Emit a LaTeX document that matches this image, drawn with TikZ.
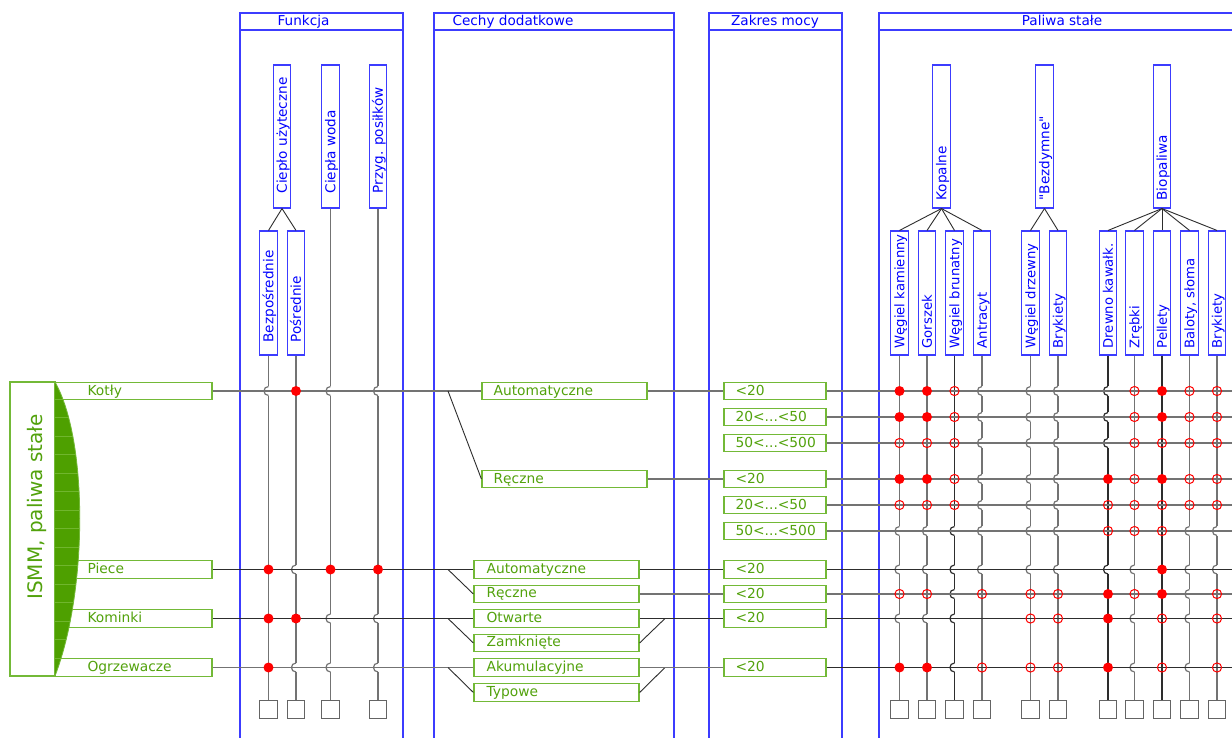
\documentclass[tikz,border=0pt]{standalone}
\usepackage{fontspec}
\setmainfont{DejaVu Sans}[Ligatures=TeXOff]
\definecolor{gtxt}{RGB}{82,162,12}
\definecolor{gbrd}{RGB}{115,185,55}
\definecolor{gfill}{RGB}{78,160,0}
\definecolor{gstripe}{RGB}{112,182,45}
\definecolor{btxt}{RGB}{0,0,255}
\definecolor{bbrd}{RGB}{60,60,255}
\definecolor{ln}{RGB}{115,115,115}
\definecolor{lnd}{RGB}{45,45,45}
\definecolor{sqc}{RGB}{100,100,100}
\definecolor{dotred}{RGB}{255,0,0}
\newcommand\gfnt{\fontsize{13.8}{16}\selectfont}
\newcommand\bfnt{\fontsize{13.6}{16}\selectfont}
\newcommand\lfnt{\fontsize{13.2}{16}\selectfont}
\newcommand\bigfnt{\fontsize{20}{24}\selectfont}
\tikzset{
 gbox/.style={draw=gbrd, line width=1.2pt, fill=white, inner sep=0pt, minimum height=17.5pt},
 bbox/.style={draw=bbrd, line width=1.1pt, fill=white, inner sep=0pt, minimum width=17.5pt},
 gt/.style={text=gtxt, font=\gfnt, inner sep=0pt, text height=10pt, text depth=0pt, anchor=west},
 bt/.style={text=btxt, font=\bfnt, inner sep=0pt, text height=9.9pt, text depth=0pt},
 rt/.style={bt, rotate=90, anchor=west},
 lt/.style={text=btxt, font=\lfnt, inner sep=0pt, text height=9.6pt, text depth=0pt, rotate=90, anchor=west},
 panel/.style={draw=bbrd, line width=1.1pt},
 sq/.style={draw=sqc, line width=1.1pt, fill=white, minimum size=17.5pt, inner sep=0pt},
 vl/.style={line width=1.3pt},
 hl/.style={line width=1.3pt, ln},
 hld/.style={line width=1.3pt, lnd},
 tl/.style={line width=0.9pt, lnd},
 dg/.style={line width=0.9pt, lnd},
 hop/.pic={\draw[white, line width=3.2pt] (0,-4.8) -- (0,4.8); \draw[line width=1.2pt] (0,-4.5) .. controls (-6,-4.5) and (-6,4.5) .. (0,4.5);},
}
\begin{document}
\begin{tikzpicture}[x=1pt,y=-1pt]
\useasboundingbox (0,0) rectangle (1232,738);
\clip (0,0) rectangle (1232,738);
\fill[white] (0,0) rectangle (1232,738);

% panels
\draw[panel] (240,13) rectangle (403,750); \draw[panel] (240,30) -- (403,30);
\draw[panel] (434,13) rectangle (674,750); \draw[panel] (434,30) -- (674,30);
\draw[panel] (709,13) rectangle (842,750); \draw[panel] (709,30) -- (842,30);
\draw[panel] (879,13) rectangle (1250,750); \draw[panel] (879,30) -- (1250,30);
\node[bt] (tF) at (303.5,21) {Funkcja};
\node[bt] (tC) at (513,21) {Cechy dodatkowe};
\node[bt] (tZ) at (775,21) {Zakres mocy};
\node[bt] (tP) at (1062,21) {Paliwa stałe};

% left block
\node[gbox, minimum width=45pt, minimum height=294pt] (ismm) at (32.5,529) {};
\node[gbox, minimum width=157pt] (k1) at (133.5,391) {};
\node[gt] (k1t) at ([xshift=33pt,yshift=0.8pt]k1.west) {Kotły};
\node[gbox, minimum width=157pt] (k2) at (133.5,569.5) {};
\node[gt] (k2t) at ([xshift=33pt,yshift=0.8pt]k2.west) {Piece};
\node[gbox, minimum width=157pt] (k3) at (133.5,618.5) {};
\node[gt] (k3t) at ([xshift=33pt,yshift=0.8pt]k3.west) {Kominki};
\node[gbox, minimum width=157pt] (k4) at (133.5,667.5) {};
\node[gt] (k4t) at ([xshift=33pt,yshift=0.8pt]k4.west) {Ogrzewacze};
\fill[gfill] (55,382) .. controls (88,440) and (88,590) .. (55,676) -- cycle;
\begin{scope}
\clip (55,382) .. controls (88,440) and (88,590) .. (55,676) -- cycle;
\foreach \k in {0,...,14} \draw[gstripe, line width=0.6pt] (50,{399.2+18.5*\k}) -- (95,{399.2+18.5*\k});
\end{scope}
\draw[gbrd, line width=0.8pt] (55,382) .. controls (88,440) and (88,590) .. (55,676);
\node[text=gtxt, font=\bigfnt, inner sep=0pt, text height=14.6pt, text depth=0pt, rotate=90] (ismmT) at (35.5,507) {ISMM, paliwa stałe};

% cechy dodatkowe
\node[gbox, minimum width=165pt] (autoK) at (564.5,391) {};
\node[gt] (autoKt) at ([xshift=12pt,yshift=0.8pt]autoK.west) {Automatyczne};
\node[gbox, minimum width=165pt] (recK) at (564.5,479) {};
\node[gt] (recKt) at ([xshift=12pt,yshift=0.8pt]recK.west) {Ręczne};
\node[gbox, minimum width=165pt] (autoP) at (556.5,569.5) {};
\node[gt] (autoPt) at ([xshift=13pt,yshift=1.5pt]autoP.west) {Automatyczne};
\node[gbox, minimum width=165pt] (recP) at (556.5,594) {};
\node[gt] (recPt) at ([xshift=13pt,yshift=1.5pt]recP.west) {Ręczne};
\node[gbox, minimum width=165pt] (otw) at (556.5,618.5) {};
\node[gt] (otwt) at ([xshift=13pt,yshift=1.5pt]otw.west) {Otwarte};
\node[gbox, minimum width=165pt] (zam) at (556.5,643) {};
\node[gt] (zamt) at ([xshift=13pt,yshift=1.5pt]zam.west) {Zamknięte};
\node[gbox, minimum width=165pt] (aku) at (556.5,667.5) {};
\node[gt] (akut) at ([xshift=13pt,yshift=1.5pt]aku.west) {Akumulacyjne};
\node[gbox, minimum width=165pt] (typ) at (556.5,692.5) {};
\node[gt] (typt) at ([xshift=13pt,yshift=1.5pt]typ.west) {Typowe};

% zakres mocy
\foreach \r/\y/\t in {1/391/{<20},2/417/{20<...<50},3/443/{50<...<500},4/479/{<20},5/505/{20<...<50},6/531/{50<...<500},7/569.5/{<20},8/594/{<20},9/618.5/{<20},10/667.5/{<20}}{
  \node[gbox, minimum width=102pt] (z\r) at (775,\y) {};
  \node[gt] (z\r t) at ([xshift=12pt,yshift=0.8pt]z\r.west) {\t};
}
\coordinate (E) at (1245,0);

% funkcja boxes
\node[bbox, minimum height=143pt] (cu) at (282,136.5) {};
\node[rt] (cuT) at ([yshift=15pt]cu.south) {Ciepło użyteczne};
\node[bbox, minimum height=143pt] (F3) at (330.5,136.5) {};
\node[rt] (F3T) at ([yshift=15pt]F3.south) {Ciepła woda};
\node[bbox, minimum height=143pt] (F4) at (378,136.5) {};
\node[rt] (F4T) at ([yshift=15pt]F4.south) {Przyg. posiłków};
\node[bbox, minimum height=124pt] (F1) at (268.5,293) {};
\node[rt] (F1T) at ([yshift=13pt]F1.south) {Bezpośrednie};
\node[bbox, minimum height=124pt] (F2) at (296,293) {};
\node[rt] (F2T) at ([yshift=13pt]F2.south) {Pośrednie};
\foreach \c/\x in {1/268.5,2/296,3/330.5,4/378} \node[sq] (Q\c) at (\x,709.5) {};

% paliwa boxes
\node[bbox, minimum height=143pt] (kop) at (941.5,136.5) {};
\node[rt] (kopT) at ([yshift=8pt]kop.south) {Kopalne};
\node[bbox, minimum height=143pt] (bzd) at (1044.5,136.5) {};
\node[rt] (bzdT) at ([yshift=8pt]bzd.south) {"Bezdymne"};
\node[bbox, minimum height=143pt] (bio) at (1162,136.5) {};
\node[rt] (bioT) at ([yshift=8pt]bio.south) {Biopaliwa};
\foreach \c/\x/\t in {1/899.5/{Węgiel kamienny},2/927/{Gorszek},3/954.5/{Węgiel brunatny},4/982/{Antracyt},5/1030.5/{Węgiel drzewny},6/1058/{Brykiety},7/1108/{Drewno kawałk.},8/1134.5/{Zrębki},9/1162/{Pellety},10/1189.5/{Baloty, słoma},11/1217/{Brykiety}}{
  \node[bbox, minimum height=124pt] (L\c) at (\x,293) {};
  \node[lt] (L\c T) at ([yshift=7pt]L\c.south) {\t};
  \node[sq] (S\c) at (\x,709.5) {};
}

% tree connectors
\draw[tl] (cu.south) -- (F1.north);
\draw[tl] (cu.south) -- (F2.north);
\foreach \c in {1,2,3,4} \draw[tl] (kop.south) -- (L\c.north);
\foreach \c in {5,6} \draw[tl] (bzd.south) -- (L\c.north);
\foreach \c in {7,...,11} \draw[tl] (bio.south) -- (L\c.north);

% vertical lines
\foreach \c in {1,2,3,4} \draw[vl, ln] (F\c.south) -- (Q\c.north);
\foreach \c/\cc in {1/ln,2/ln,3/lnd,4/ln,5/ln,6/ln,7/lnd,8/ln,9/lnd,10/ln,11/ln} \draw[vl, \cc] (L\c.south) -- (S\c.north);

% hops
\foreach \c/\vals in {1/{H,F,F,F},2/{F,H,F,H},3/{H,F,H,H},4/{H,F,H,H}}{
  \foreach \v [count=\r] in \vals {\if H\v \pic[color=ln] at (F\c |- k\r) {hop}; \fi}
}
\foreach \c/\cc/\vals in {1/ln/{F,F,O,F,O,H,H,O,H,F},2/ln/{F,F,O,F,O,H,H,O,H,F},3/lnd/{O,O,O,O,O,H,H,H,H,H},4/ln/{H,H,H,H,H,H,H,O,N,O},5/ln/{H,H,H,H,H,H,H,O,O,O},6/ln/{H,H,H,H,H,H,H,O,O,O},7/lnd/{H,H,H,F,O,O,H,F,F,F},8/ln/{O,O,O,O,O,O,H,O,H,H},9/lnd/{F,F,O,F,O,O,F,F,O,O},10/ln/{O,O,O,O,O,H,H,H,H,H},11/ln/{O,O,O,O,O,H,H,O,O,O}}{
  \foreach \v [count=\r] in \vals {\if H\v \pic[color=\cc] at (L\c |- z\r) {hop}; \fi}
}

% horizontal connectors
\draw[hl] (k1.east) -- (autoK.west);
\draw[hld] (k2.east) -- (autoP.west);
\draw[hld] (k3.east) -- (otw.west);
\draw[hl] (k4.east) -- (aku.west);
\coordinate (j1) at (448,391);
\coordinate (j2) at (448,569.5);
\coordinate (j3) at (448,618.5);
\coordinate (j4) at (448,667.5);
\coordinate (j5) at (665,618.5);
\coordinate (j6) at (665,667.5);
\draw[dg] (j1) -- (recK.west);
\draw[dg] (j2) -- (recP.west);
\draw[dg] (j3) -- (zam.west);
\draw[dg] (j4) -- (typ.west);
\draw[dg] (zam.east) -- (j5);
\draw[dg] (typ.east) -- (j6);
\draw[hl] (autoK.east) -- (z1.west);
\draw[hl] (recK.east) -- (z4.west);
\draw[hld] (autoP.east) -- (z7.west);
\draw[hl] (recP.east) -- (z8.west);
\draw[hld] (otw.east) -- (z9.west);
\draw[hl] (aku.east) -- (z10.west);
\foreach \r/\cc in {1/ln,2/ln,3/ln,4/ln,5/ln,6/ln,7/lnd,8/ln,9/lnd,10/lnd} \draw[line width=1.3pt, \cc] (z\r.east) -- (z\r.east -| E);

% dots
\foreach \c/\vals in {1/{H,F,F,F},2/{F,H,F,H},3/{H,F,H,H},4/{H,F,H,H}}{
  \foreach \v [count=\r] in \vals {\if F\v \fill[dotred] (F\c |- k\r) circle[radius=5pt]; \fi}
}
\foreach \c/\vals in {1/{F,F,O,F,O,H,H,O,H,F},2/{F,F,O,F,O,H,H,O,H,F},3/{O,O,O,O,O,H,H,H,H,H},4/{H,H,H,H,H,H,H,O,N,O},5/{H,H,H,H,H,H,H,O,O,O},6/{H,H,H,H,H,H,H,O,O,O},7/{H,H,H,F,O,O,H,F,F,F},8/{O,O,O,O,O,O,H,O,H,H},9/{F,F,O,F,O,O,F,F,O,O},10/{O,O,O,O,O,H,H,H,H,H},11/{O,O,O,O,O,H,H,O,O,O}}{
  \foreach \v [count=\r] in \vals {
    \if F\v \fill[dotred] (L\c |- z\r) circle[radius=5pt]; \fi
    \if O\v \draw[dotred, line width=1pt] (L\c |- z\r) circle[radius=4.6pt]; \fi
  }
}
\end{tikzpicture}
\end{document}
